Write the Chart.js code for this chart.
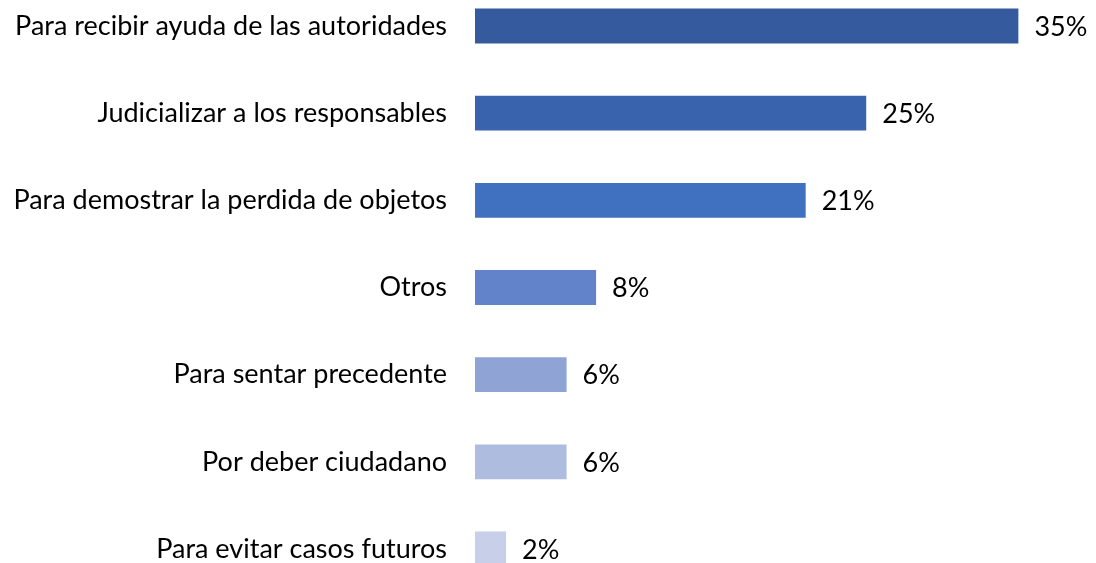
<!DOCTYPE html>
<html>
<head>
<meta charset="utf-8">
<script src="https://cdn.jsdelivr.net/npm/chart.js@4"></script>
<style>
  html, body { margin: 0; padding: 0; background: #fff; }
  #wrap { width: 1096px; height: 563px; position: relative; }
</style>
</head>
<body>
<div id="wrap"><canvas id="chart"></canvas></div>
<script>
// reasons for reporting
const categories = [
    'Para recibir ayuda de las autoridades',
    'Judicializar a los responsables',
    'Para demostrar la perdida de objetos',
    'Otros',
    'Para sentar precedente',
    'Por deber ciudadano',
    'Para evitar casos futuros'
];
const values = [35.0, 25.2, 21.3, 7.8, 5.9, 5.9, 2.0];
const barColors = ['#355A9E', '#3A63AD', '#4070C0', '#6283C9', '#8FA4D4', '#AEBCDF', '#C7D0E8'];

const FONT = 'Lato, "Noto Sans", sans-serif';

// draws the percentage next to each bar
const valueLabels = {
    id: 'valueLabels',
    afterDatasetsDraw(chart) {
        const ctx = chart.ctx;
        const meta = chart.getDatasetMeta(0);
        ctx.save();
        ctx.font = '27px ' + FONT;
        ctx.fillStyle = '#000';
        ctx.textAlign = 'left';
        ctx.textBaseline = 'middle';
        meta.data.forEach((bar, i) => {
            ctx.fillText(Math.round(values[i]) + '%', bar.x + 16, bar.y + 1);
        });
        ctx.restore();
    }
};

new Chart(document.getElementById('chart'), {
    type: 'bar',
    data: {
        labels: categories,
        datasets: [{
            data: values,
            backgroundColor: barColors,
            barPercentage: 0.8,
            categoryPercentage: 0.5,
            clip: false
        }]
    },
    plugins: [valueLabels],
    options: {
        indexAxis: 'y',
        responsive: true,
        maintainAspectRatio: false,
        animation: false,
        layout: { padding: { top: 26, bottom: 14, left: 0, right: 0 } },
        plugins: {
            legend: { display: false },
            tooltip: { enabled: false }
        },
        scales: {
            x: { display: false, min: 0, max: 40 },
            y: {
                offset: false,
                grid: { display: false, drawTicks: true, tickLength: 28 },
                border: { display: false },
                afterFit(scale) { scale.width = 475; },
                ticks: {
                    padding: 0,
                    color: '#000',
                    font: { size: 27, family: FONT, lineHeight: 0.01 }
                }
            }
        }
    }
});
</script>
</body>
</html>
